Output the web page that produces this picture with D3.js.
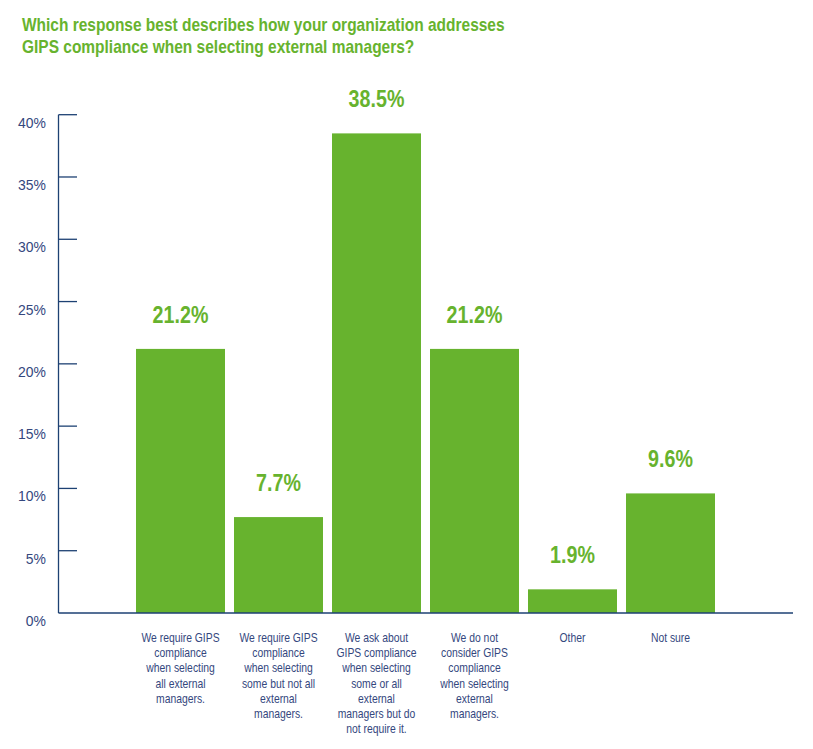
<!DOCTYPE html>
<html>
<head>
<meta charset="utf-8">
<script src="https://cdn.jsdelivr.net/npm/d3@7"></script>
<style>
  body { margin: 0; background: #fff; }
  svg { display: block; }
</style>
</head>
<body>
<div id="chart"></div>
<script>
var titleLines = ["Which response best describes how your organization addresses",
                  "GIPS compliance when selecting external managers?"];
var categories = [
  ["We require GIPS", "compliance", "when selecting", "all external", "managers."],
  ["We require GIPS", "compliance", "when selecting", "some but not all", "external", "managers."],
  ["We ask about", "GIPS compliance", "when selecting", "some or all", "external", "managers but do", "not require it."],
  ["We do not", "consider GIPS", "compliance", "when selecting", "external", "managers."],
  ["Other"],
  ["Not sure"]
];
var values = [21.2, 7.7, 38.5, 21.2, 1.9, 9.6];
var yTicks = [0, 5, 10, 15, 20, 25, 30, 35, 40];

var width = 813, height = 749;
var green = "#67b32e", navy = "#1d4173", textBlue = "#34477e";
var font = "'Liberation Sans', Arial, sans-serif";

var svg = d3.select("#chart").append("svg")
  .attr("width", width).attr("height", height);

// condensed look: squeeze text horizontally around its anchor
function squeezed(sel, sx)
{
  return function(d, i){
    return "translate(" + sel.x(d, i) + "," + sel.y(d, i) + ") scale(" + sx + ",1)";
  };
}

// title
svg.append("g").selectAll("g").data(titleLines).enter().append("g")
  .attr("transform", squeezed({x: function(){ return 22; },
                               y: function(d, i){ return 31 + i * 22.3; }}, 0.885))
  .append("text")
  .attr("fill", green)
  .attr("font-family", font)
  .attr("font-weight", "bold")
  .attr("font-size", 17.5)
  .text(function(d){ return d; });

var axisX = 58.5, baseY = 613, topY = 114.7, axisEnd = 793;

var y = d3.scaleLinear().domain([0, 40]).range([baseY, topY]);
var x = d3.scaleBand()
  .domain(d3.range(values.length))
  .range([131.5, 719.5])
  .paddingInner(0.092)
  .paddingOuter(0.046);

// y axis
var ax = svg.append("g");
ax.append("line")
  .attr("x1", axisX).attr("x2", axisX)
  .attr("y1", y(40)).attr("y2", y(0))
  .attr("stroke", navy).attr("stroke-width", 1.3);
ax.selectAll("line.tick").data(yTicks.filter(function(d){ return d > 0; })).enter().append("line")
  .attr("class", "tick")
  .attr("x1", axisX).attr("x2", 77)
  .attr("y1", function(d){ return y(d); }).attr("y2", function(d){ return y(d); })
  .attr("stroke", navy).attr("stroke-width", 1.3);
ax.selectAll("g.lab").data(yTicks).enter().append("g")
  .attr("class", "lab")
  .attr("transform", squeezed({x: function(){ return 46; },
                               y: function(d){ return y(d) + 13; }}, 0.93))
  .append("text")
  .attr("text-anchor", "end")
  .attr("fill", textBlue)
  .attr("font-family", font)
  .attr("font-size", 15)
  .text(function(d){ return d + "%"; });

// bars
svg.append("g").selectAll("rect").data(values).enter().append("rect")
  .attr("x", function(d, i){ return x(i); })
  .attr("y", function(d){ return y(d); })
  .attr("width", x.bandwidth())
  .attr("height", function(d){ return y(0) - y(d); })
  .attr("fill", green);

// baseline
svg.append("line")
  .attr("x1", axisX).attr("x2", axisEnd)
  .attr("y1", baseY).attr("y2", baseY)
  .attr("stroke", navy).attr("stroke-width", 1.3);

var cx = function(d, i){ return x(i) + x.bandwidth() / 2; };

// value labels
svg.append("g").selectAll("g").data(values).enter().append("g")
  .attr("transform", squeezed({x: cx, y: function(d){ return y(d) - 26; }}, 0.82))
  .append("text")
  .attr("text-anchor", "middle")
  .attr("fill", green)
  .attr("font-family", font)
  .attr("font-weight", "bold")
  .attr("font-size", 24)
  .text(function(d){ return d.toFixed(1) + "%"; });

// category labels
var cat = svg.append("g").selectAll("g").data(categories).enter().append("g")
  .attr("transform", squeezed({x: cx, y: function(){ return 642; }}, 0.83))
  .append("text")
  .attr("text-anchor", "middle")
  .attr("fill", textBlue)
  .attr("font-family", font)
  .attr("font-size", 12.5);
cat.each(function(lines){
  var t = d3.select(this);
  lines.forEach(function(l, j){
    t.append("tspan")
      .attr("x", 0)
      .attr("dy", j === 0 ? 0 : 15.2)
      .text(l);
  });
});
</script>
</body>
</html>
